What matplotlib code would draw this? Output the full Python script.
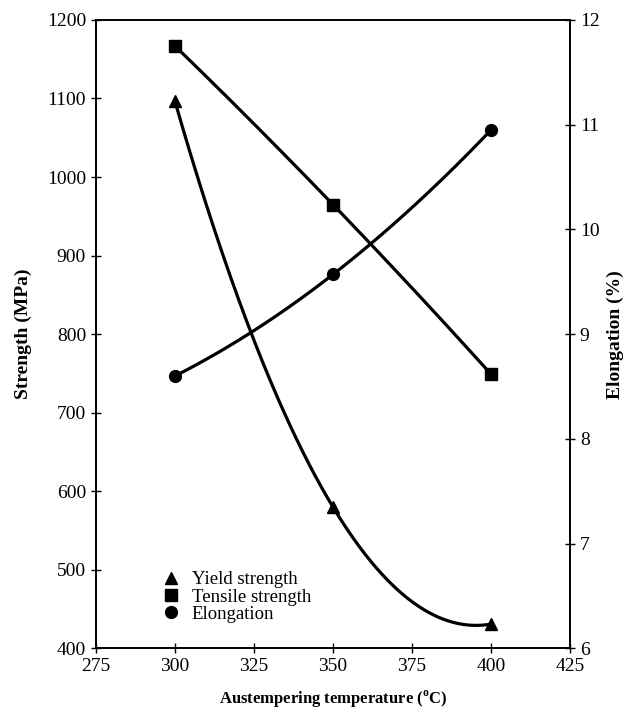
import numpy as np
import matplotlib
matplotlib.use("Agg")
import matplotlib.pyplot as plt
from matplotlib.lines import Line2D

plt.rcParams['font.family'] = ['Liberation Serif', 'DejaVu Serif']

temps = [300, 350, 400]
yield_strength = [1097, 580, 431]
tensile_strength = [1167, 965, 749]
elongation = [8.6, 9.57, 10.95]


def smooth(x, y):
    # smoothed line through the three points, like the original spreadsheet chart
    coef = np.polyfit(x, y, 2)
    xs = np.linspace(min(x), max(x), 200)
    return xs, np.polyval(coef, xs)


fig = plt.figure(figsize=(6.3, 7.11), dpi=100)
ax = fig.add_axes([0.152, 0.088, 0.753, 0.884])
ax2 = ax.twinx()

xs, ys = smooth(temps, yield_strength)
ax.plot(xs, ys, color='black', lw=2.3)
ax.plot(temps, yield_strength, '^', color='black', ms=9)

xs, ys = smooth(temps, tensile_strength)
ax.plot(xs, ys, color='black', lw=2.3)
ax.plot(temps, tensile_strength, 's', color='black', ms=8)

xs, ys = smooth(temps, elongation)
ax2.plot(xs, ys, color='black', lw=2.3)
ax2.plot(temps, elongation, 'o', color='black', ms=8.5)

ax.set_xlim(275, 425)
ax.set_ylim(400, 1200)
ax2.set_ylim(6, 12)
ax.set_xticks(range(275, 426, 25))
ax.set_yticks(range(400, 1201, 100))
ax2.set_yticks(range(6, 13))

for a in (ax, ax2):
    a.tick_params(labelsize=14, direction='inout', length=7, width=1)
    for s in a.spines.values():
        s.set_linewidth(1.2)

ax.set_xlabel('Austempering temperature ($^{\\mathregular{o}}$C)', fontsize=12, fontweight='bold')
ax.xaxis.set_label_coords(0.5, -0.064)
ax.set_ylabel('Strength (MPa)', fontsize=14, fontweight='bold')
ax.yaxis.set_label_coords(-0.135, 0.5)
ax2.set_ylabel('Elongation (%)', fontsize=14, fontweight='bold')
ax2.yaxis.set_label_coords(1.078, 0.5)

handles = [
    Line2D([], [], marker='^', ls='none', color='black', ms=9, label='Yield strength'),
    Line2D([], [], marker='s', ls='none', color='black', ms=8, label='Tensile strength'),
    Line2D([], [], marker='o', ls='none', color='black', ms=8.5, label='Elongation'),
]
ax.legend(handles=handles, loc='upper left', bbox_to_anchor=(154 / 630, 1 - 562 / 711),
          bbox_transform=fig.transFigure, frameon=False, fontsize=13.5,
          handlelength=0.8, handletextpad=0.7, labelspacing=0.0, borderpad=0)

fig.savefig('out.png', dpi=100)
